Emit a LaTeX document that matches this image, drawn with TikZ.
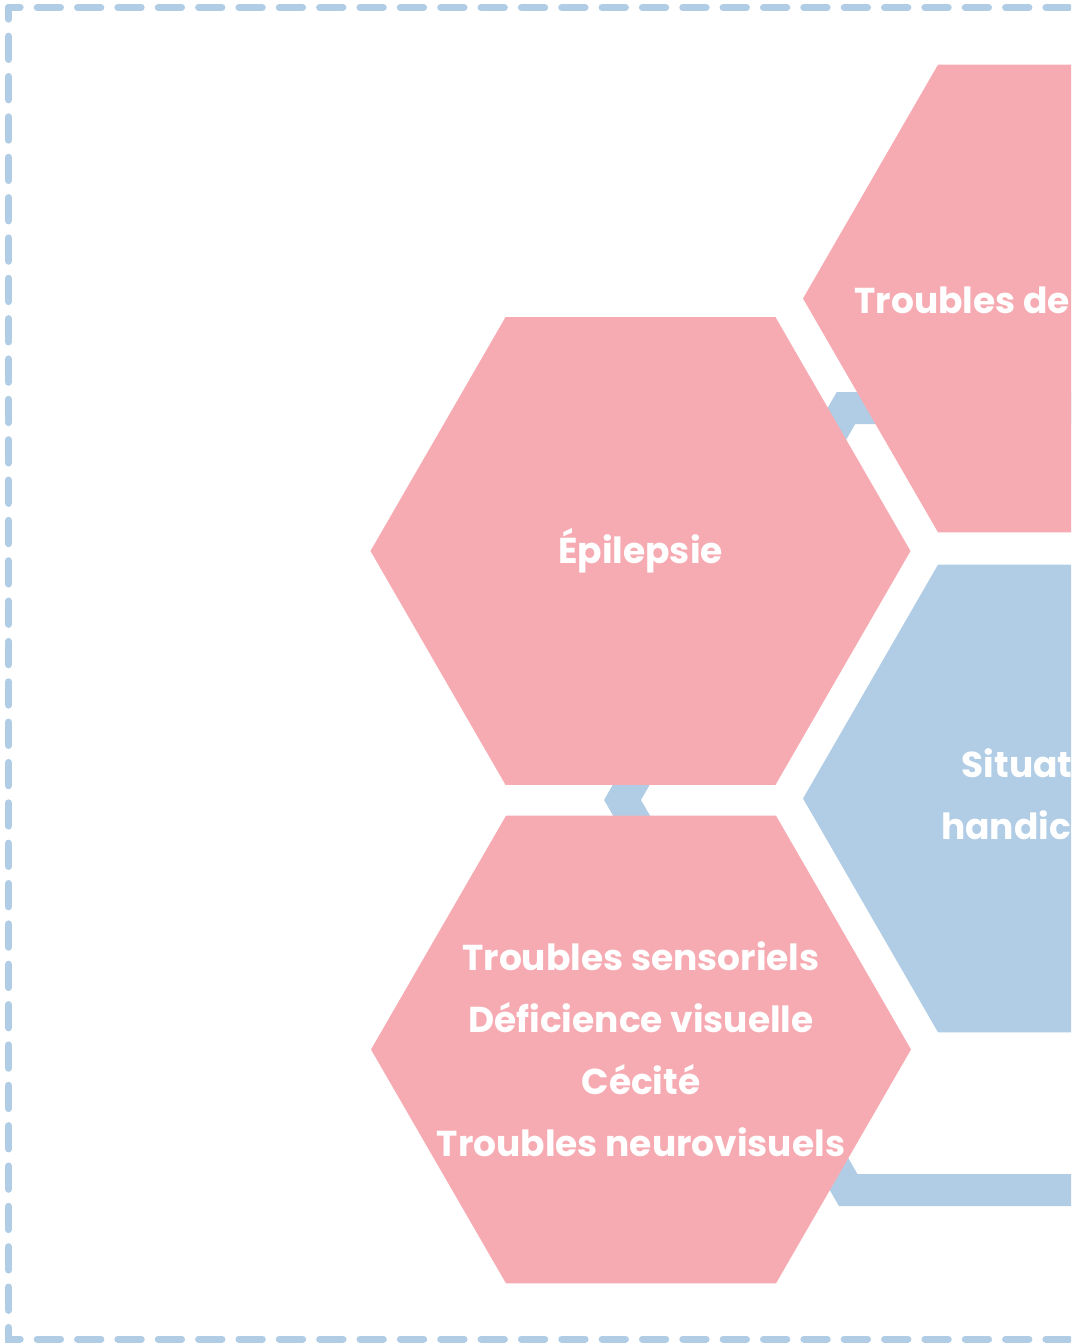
\documentclass[tikz,border=0pt]{standalone}
\usepackage{fontspec}
\setmainfont{Poppins}
\usetikzlibrary{shapes.geometric,backgrounds}
\definecolor{hexpink}{HTML}{F6ABB2}
\definecolor{hexblue}{HTML}{B1CDE6}
\begin{document}
\begin{tikzpicture}[x=1pt, y=-1pt,
    hex/.style={regular polygon, regular polygon sides=6, minimum size=540pt,
      inner sep=0pt, outer sep=0pt},
    hextext/.style={text=white, align=center,
      font=\bfseries\fontsize{36}{62}\selectfont},
    link/.style={draw=hexblue, line width=32pt, line join=miter},
    frame/.style={draw=hexblue, line width=7pt, line cap=round,
      dash pattern=on 23.35pt off 17pt, dash phase=11.7pt}]
    \useasboundingbox (0,0) rectangle (1071,1344);
    \clip (0,0) rectangle (1071,1344);
    \coordinate (tl) at (8.5,7.5);
    \coordinate (bl) at (8.5,1339);
    \draw[frame] (tl) -- (1120,7.5);
    \draw[frame] (tl) -- (bl) -- (1120,1339);
    \node[hex, fill=hexpink] (trb) at (1073,298.5) {};
    \node[hex, fill=hexpink] (epi) at (640.5,551) {};
    \node[hex, fill=hexblue] (sit) at (1073,798.5) {};
    \node[hex, fill=hexpink] (sens) at (641,1049.5) {};
    \node[hextext] (trblabel) at (trb.center) {Troubles de la motricité};
    \node[hextext] (epilabel) at (epi.center) {Épilepsie};
    \node[hextext] (sitlabel) at (sit.center) {Situation de\\handicap rare};
    \node[hextext] (senslabel) at (sens.center) {Troubles sensoriels\\
      Déficience visuelle\\Cécité\\Troubles neurovisuels};
    \begin{scope}[on background layer]
      \clip (0,0) rectangle (1071,1344);
      \draw[link] ([shift={(100,109.5)}]trb.center) -- ++(-327,0) -- ++(120:120);
      \draw[link] ([shift={(12,197)}]epi.center) -- ++(120:60) -- ++(60:60);
      \draw[link] ([shift={(500,140.5)}]sens.center) -- ++(-292.8,0) -- ++(240:80);
    \end{scope}
  \end{tikzpicture}
\end{document}
